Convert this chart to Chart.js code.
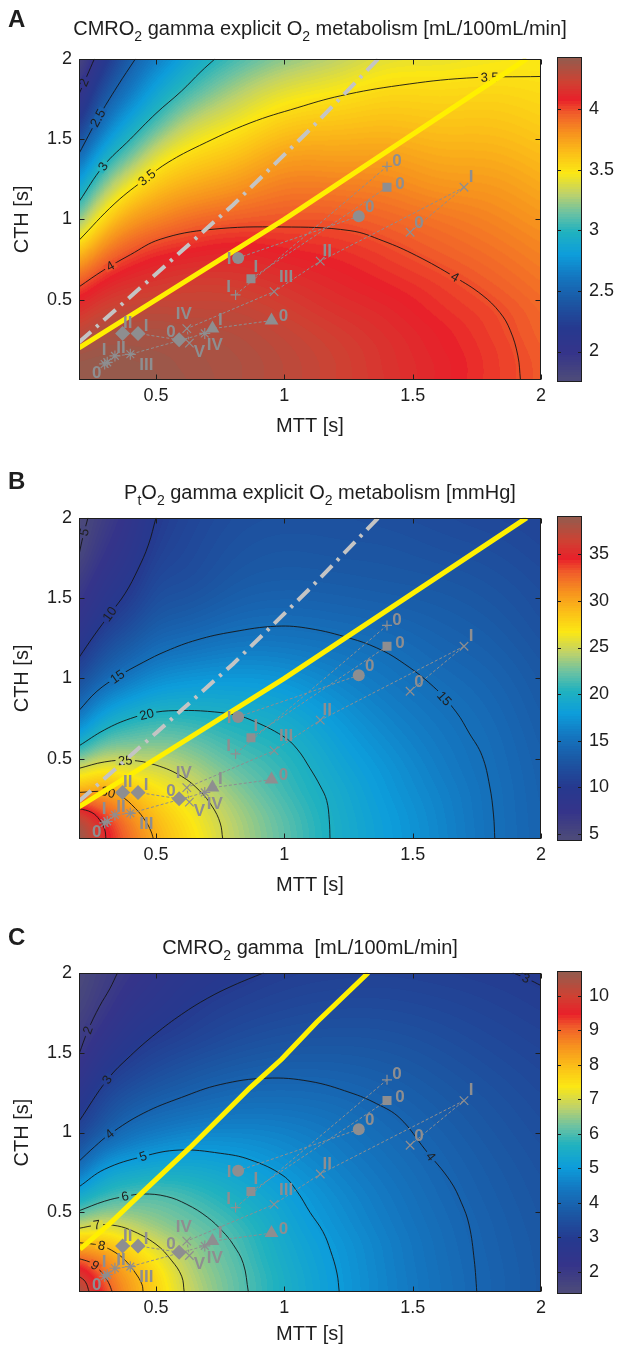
<!DOCTYPE html>
<html>
<head>
<meta charset="utf-8">
<script src="https://cdn.jsdelivr.net/npm/chart.js@4.4.1/dist/chart.umd.min.js"></script>
<style>
  html, body { margin: 0; padding: 0; background: #fff; }
  #page { position: relative; width: 619px; height: 1351px; overflow: hidden; }
  .panel { position: absolute; left: 0; width: 619px; }
</style>
</head>
<body>
<div id="page">
  <div class="panel" style="top:0px"><canvas id="chartA" width="619" height="450"></canvas></div>
  <div class="panel" style="top:459px"><canvas id="chartB" width="619" height="450"></canvas></div>
  <div class="panel" style="top:914px"><canvas id="chartC" width="619" height="437"></canvas></div>
</div>
<script>
const mttGrid = [0.2, 0.3, 0.4, 0.5, 0.6, 0.8, 1.0, 1.2, 1.4, 1.6, 1.8, 2.0];
const cthGrid = [0, 0.1, 0.2, 0.3, 0.4, 0.6, 0.8, 1.0, 1.2, 1.4, 1.6, 1.8, 2.0];

// A: CMRO2 gamma explicit O2 metabolism, one row per CTH value
const cmroExplicitMap = [
  [4.42, 4.42, 4.41, 4.40, 4.38, 4.34, 4.29, 4.23, 4.165, 4.10, 4.035, 3.97],
  [4.40, 4.41, 4.40, 4.39, 4.37, 4.34, 4.29, 4.23, 4.16, 4.10, 4.035, 3.97],
  [4.35, 4.38, 4.38, 4.37, 4.36, 4.33, 4.28, 4.22, 4.155, 4.09, 4.03, 3.96],
  [4.27, 4.33, 4.34, 4.34, 4.33, 4.31, 4.26, 4.20, 4.14, 4.08, 4.02, 3.95],
  [4.18, 4.26, 4.29, 4.30, 4.29, 4.28, 4.23, 4.17, 4.12, 4.06, 4.01, 3.94],
  [3.97, 4.09, 4.15, 4.18, 4.20, 4.20, 4.16, 4.11, 4.065, 4.02, 3.965, 3.90],
  [3.62, 3.86, 3.98, 4.04, 4.07, 4.10, 4.075, 4.05, 4.01, 3.96, 3.91, 3.85],
  [3.20, 3.55, 3.75, 3.84, 3.90, 3.96, 3.98, 3.975, 3.94, 3.895, 3.85, 3.79],
  [2.86, 3.22, 3.47, 3.62, 3.70, 3.79, 3.87, 3.87, 3.85, 3.80, 3.78, 3.72],
  [2.52, 2.90, 3.15, 3.37, 3.50, 3.62, 3.74, 3.75, 3.75, 3.71, 3.70, 3.65],
  [2.20, 2.60, 2.87, 3.08, 3.26, 3.44, 3.58, 3.62, 3.64, 3.62, 3.62, 3.58],
  [1.97, 2.36, 2.63, 2.85, 3.02, 3.25, 3.40, 3.47, 3.53, 3.53, 3.54, 3.52],
  [1.80, 2.15, 2.45, 2.65, 2.82, 3.05, 3.20, 3.30, 3.40, 3.42, 3.45, 3.46]
];

// B: PtO2 gamma explicit O2 metabolism [mmHg]
const ptoMap = [
  [39.0, 35.2, 32.3, 29.7, 27.8, 24.5, 22.0, 19.8, 18.1, 16.6, 15.1, 13.9],
  [37.8, 34.5, 31.6, 29.2, 27.4, 24.3, 21.9, 19.75, 18.05, 16.55, 15.08, 13.88],
  [34.5, 32.4, 30.3, 28.3, 26.7, 23.9, 21.6, 19.6, 17.9, 16.45, 15.04, 13.85],
  [29.7, 30.0, 28.6, 27.1, 25.8, 23.3, 21.2, 19.4, 17.7, 16.3, 15.0, 13.8],
  [26.3, 27.3, 26.5, 25.7, 24.8, 22.6, 20.9, 19.1, 17.5, 16.1, 14.9, 13.75],
  [19.6, 22.0, 22.6, 22.8, 22.5, 21.1, 20.1, 18.4, 16.9, 15.7, 14.7, 13.55],
  [15.0, 17.8, 19.2, 19.9, 20.0, 19.6, 18.9, 17.5, 16.2, 15.25, 14.4, 13.3],
  [11.9, 14.3, 15.8, 16.9, 17.4, 17.7, 17.4, 16.4, 15.5, 14.7, 14.0, 13.0],
  [9.3, 11.8, 13.3, 14.5, 15.0, 15.7, 15.7, 15.3, 14.8, 14.1, 13.5, 12.6],
  [7.6, 9.7, 11.3, 12.7, 13.2, 14.1, 14.4, 14.2, 13.9, 13.5, 13.0, 12.2],
  [6.2, 8.3, 9.8, 11.5, 12.0, 13.0, 13.4, 13.3, 13.1, 12.9, 12.5, 11.9],
  [4.9, 7.1, 8.8, 10.6, 11.4, 12.4, 12.8, 12.7, 12.6, 12.3, 12.0, 11.5],
  [4.5, 6.2, 8.0, 10.0, 11.0, 12.0, 12.3, 12.3, 12.1, 11.8, 11.5, 11.2]
];

// C: CMRO2 gamma [mL/100mL/min]
const cmroMap = [
  [10.6, 9.3, 8.4, 7.7, 7.05, 6.2, 5.55, 5.03, 4.6, 4.25, 3.95, 3.7],
  [10.0, 9.0, 8.25, 7.6, 6.95, 6.17, 5.53, 5.02, 4.59, 4.24, 3.945, 3.7],
  [9.1, 8.6, 7.9, 7.35, 6.8, 6.1, 5.47, 4.99, 4.57, 4.22, 3.93, 3.69],
  [8.1, 7.95, 7.45, 7.0, 6.6, 6.03, 5.41, 4.95, 4.55, 4.2, 3.91, 3.68],
  [7.0, 7.15, 6.9, 6.6, 6.35, 5.92, 5.33, 4.88, 4.5, 4.17, 3.89, 3.66],
  [5.4, 5.85, 6.03, 6.05, 5.95, 5.57, 5.14, 4.74, 4.4, 4.09, 3.83, 3.61],
  [4.1, 4.85, 5.12, 5.25, 5.29, 5.15, 4.87, 4.56, 4.27, 4.0, 3.76, 3.55],
  [3.25, 3.85, 4.25, 4.45, 4.58, 4.66, 4.57, 4.37, 4.12, 3.89, 3.67, 3.47],
  [2.7, 3.3, 3.65, 3.85, 3.98, 4.17, 4.2, 4.12, 3.95, 3.76, 3.57, 3.38],
  [2.2, 2.8, 3.15, 3.37, 3.53, 3.76, 3.86, 3.85, 3.76, 3.61, 3.44, 3.28],
  [1.85, 2.35, 2.75, 2.97, 3.12, 3.38, 3.53, 3.58, 3.55, 3.44, 3.3, 3.17],
  [1.6, 2.0, 2.4, 2.65, 2.85, 3.1, 3.25, 3.33, 3.33, 3.26, 3.16, 3.05],
  [1.45, 1.8, 2.1, 2.4, 2.62, 2.87, 3.03, 3.1, 3.12, 3.08, 3.02, 2.95]
];

// colour ranges and colorbar ticks
const cmroExplicitRange = [1.765, 4.416];
const ptoRange = [4.48, 38.9];
const cmroRange = [1.41, 10.67];
const cmroExplicitTicks = [2, 2.5, 3, 3.5, 4];
const ptoTicks = [5, 10, 15, 20, 25, 30, 35];
const cmroTicks = [2, 3, 4, 5, 6, 7, 8, 9, 10];

// contour lines: [level, [[MTT, CTH], ...]]
const cmroExplicitContours = [
  [2, [[0.2, 1.78], [0.23, 1.89], [0.26, 2.0]]],
  [2.5, [[0.2, 1.41], [0.274, 1.63], [0.35, 1.83], [0.42, 2.0]]],
  [3, [[0.2, 1.11], [0.294, 1.33], [0.4, 1.50], [0.5, 1.66], [0.6, 1.80], [0.675, 1.92], [0.73, 2.0]]],
  [3.5, [[0.2, 0.87], [0.34, 1.10], [0.465, 1.26], [0.547, 1.355], [0.67, 1.46], [0.866, 1.60], [1.05, 1.695], [1.22, 1.77], [1.45, 1.835], [1.71, 1.88], [2.0, 1.89]]],
  [4, [[0.2, 0.58], [0.295, 0.683], [0.4, 0.78], [0.516, 0.876], [0.71, 0.937], [0.99, 0.953], [1.256, 0.93], [1.385, 0.866], [1.515, 0.774], [1.665, 0.64], [1.77, 0.53], [1.84, 0.42], [1.88, 0.31], [1.91, 0.15], [1.92, 0]]]
];
const ptoContours = [
  [5, [[0.2, 1.77], [0.215, 1.88], [0.235, 2.0]]],
  [10, [[0.2, 1.13], [0.26, 1.27], [0.32, 1.40], [0.38, 1.53], [0.43, 1.68], [0.47, 1.83], [0.5, 2.0]]],
  [15, [[0.2, 0.80], [0.27, 0.92], [0.35, 1.01], [0.45, 1.10], [0.54, 1.17], [0.66, 1.24], [0.80, 1.29], [0.97, 1.325], [1.10, 1.31], [1.256, 1.25], [1.36, 1.19], [1.45, 1.11], [1.58, 0.95], [1.67, 0.79], [1.72, 0.66], [1.77, 0.52], [1.80, 0.33], [1.815, 0.15], [1.82, 0]]],
  [20, [[0.2, 0.58], [0.3, 0.68], [0.4, 0.75], [0.5, 0.79], [0.6, 0.80], [0.7, 0.795], [0.8, 0.775], [0.866, 0.744], [0.995, 0.64], [1.05, 0.56], [1.10, 0.44], [1.14, 0.33], [1.165, 0.24], [1.175, 0.12], [1.178, 0]]],
  [25, [[0.2, 0.44], [0.3, 0.48], [0.4, 0.49], [0.5, 0.46], [0.6, 0.39], [0.67, 0.30], [0.72, 0.20], [0.75, 0.10], [0.76, 0]]],
  [30, [[0.2, 0.29], [0.3, 0.295], [0.36, 0.27], [0.42, 0.19], [0.46, 0.11], [0.48, 0.05], [0.49, 0]]],
  [35, [[0.2, 0.19], [0.25, 0.165], [0.28, 0.12], [0.30, 0.06], [0.305, 0]]]
];
const cmroContours = [
  [2, [[0.2, 1.49], [0.235, 1.64], [0.28, 1.79], [0.32, 1.90], [0.35, 2.0]]],
  [3, [[0.2, 1.07], [0.31, 1.33], [0.4, 1.48], [0.5, 1.62], [0.6, 1.74], [0.7, 1.84], [0.8, 1.92], [0.92, 2.0]]],
  [3, [[1.89, 2.0], [1.95, 1.96], [2.0, 1.92]]],
  [4, [[0.2, 0.82], [0.26, 0.91], [0.32, 0.99], [0.45, 1.12], [0.6, 1.22], [0.75, 1.30], [0.93, 1.34], [1.1, 1.32], [1.256, 1.25], [1.36, 1.18], [1.45, 1.09], [1.55, 0.89], [1.645, 0.70], [1.69, 0.56], [1.72, 0.42], [1.74, 0.2], [1.75, 0]]],
  [5, [[0.2, 0.66], [0.3, 0.77], [0.45, 0.85], [0.59, 0.89], [0.75, 0.87], [0.866, 0.83], [0.995, 0.73], [1.05, 0.63], [1.10, 0.50], [1.15, 0.38], [1.18, 0.26], [1.205, 0.12], [1.214, 0]]],
  [6, [[0.2, 0.51], [0.3, 0.57], [0.38, 0.60], [0.45, 0.615], [0.54, 0.60], [0.62, 0.55], [0.7, 0.47], [0.76, 0.38], [0.8, 0.30], [0.84, 0.18], [0.86, 0]]],
  [7, [[0.2, 0.40], [0.27, 0.42], [0.33, 0.42], [0.4, 0.39], [0.5, 0.30], [0.56, 0.20], [0.6, 0.10], [0.61, 0]]],
  [8, [[0.2, 0.31], [0.26, 0.30], [0.29, 0.29], [0.34, 0.25], [0.38, 0.20], [0.42, 0.12], [0.445, 0.05], [0.45, 0]]],
  [9, [[0.2, 0.21], [0.24, 0.19], [0.262, 0.168], [0.29, 0.12], [0.315, 0.06], [0.33, 0]]],
  [10, [[0.2, 0.10], [0.225, 0.065], [0.24, 0]]]
];

// where the contour labels sit: level, MTT, CTH
const cmroExplicitLabels = [[2, 0.223, 1.85], [2.5, 0.274, 1.63], [3, 0.294, 1.33], [3.5, 0.465, 1.26], [3.5, 1.80, 1.88], [4, 0.32, 0.715], [4, 1.665, 0.64]];
const ptoLabels = [[5, 0.22, 1.91], [10, 0.32, 1.40], [15, 0.35, 1.01], [15, 1.62, 0.87], [20, 0.465, 0.77], [25, 0.38, 0.49], [30, 0.313, 0.29]];
const cmroLabels = [[2, 0.235, 1.64], [3, 0.31, 1.33], [3, 1.94, 1.96], [4, 0.32, 0.99], [4, 1.57, 0.85], [5, 0.45, 0.85], [6, 0.38, 0.60], [7, 0.27, 0.42], [8, 0.288, 0.29], [9, 0.262, 0.168]];

const xTicks = [0.5, 1, 1.5, 2];
const yTicks = [0.5, 1, 1.5, 2];

// overlay series (same in all three panels)
const circleMTT = [1.29, 0.82], circleCTH = [1.02, 0.76], circleTag = ['0', 'I'];
const squareMTT = [1.40, 0.87], squareCTH = [1.20, 0.63], squareTag = ['0', 'I'];
const plusMTT = [1.40, 0.81], plusCTH = [1.33, 0.53], plusTag = ['0', 'I'];
const crossMTT = [1.49, 1.70, 1.14, 0.96, 0.62, 0.63], crossCTH = [0.92, 1.20, 0.74, 0.55, 0.32, 0.23], crossTag = ['0', 'I', 'II', 'III', 'IV', 'V'];
const triangleMTT = [0.95, 0.72], triangleCTH = [0.37, 0.32], triangleTag = ['0', 'I'];
const diamondMTT = [0.59, 0.43, 0.37], diamondCTH = [0.25, 0.29, 0.29], diamondTag = ['0', 'I', 'II'];
const starMTT = [0.30, 0.31, 0.34, 0.40, 0.69], starCTH = [0.10, 0.11, 0.15, 0.16, 0.29], starTag = ['0', 'I', 'II', 'III', 'IV'];

const yellowMTT = [0.2, 1.0, 1.944], yellowCTH = [0.2, 1.0, 2.0];
const dashDotMTT = [0.2, 0.5, 0.8, 1.1, 1.366], dashDotCTH = [0.235, 0.66, 1.09, 1.56, 2.0];
const yellowCMTT = [0.204, 0.32, 0.45, 0.632, 0.866, 0.99, 1.126, 1.327];
const yellowCCTH = [0.27, 0.43, 0.63, 0.905, 1.28, 1.46, 1.69, 2.0];

// ---- styling
const FONT = '"Liberation Sans", Arial, sans-serif';
const INK = '#1e1e1e';
const GREY = '#8e8e90';
const YELLOW = '#fff000';
const tagOffsets = {
  circle: [[11, -9], [-9, 1]],
  square: [[13, -3], [5, -12]],
  plus: [[10, -5], [-7, -8]],
  cross: [[9, -9], [7, -10], [7, -10], [12, -14], [-3, -14], [10, 9]],
  triangle: [[12, -4], [8, -8]],
  diamond: [[-8, -8], [8, -7], [5, -10]],
  star: [[-8, 9], [-3, -12], [6, -8], [16, 11], [10, 12]]
};
const cmapStops = [
  [0.00, '#4c4a7a'], [0.08, '#35348a'], [0.16, '#26398f'], [0.24, '#1b56a3'],
  [0.32, '#1476c0'], [0.39, '#0d9ddb'], [0.46, '#20b2bf'], [0.52, '#6cc2a2'],
  [0.58, '#bfd26a'], [0.645, '#fbe714'], [0.71, '#fbbe18'], [0.77, '#f7931e'],
  [0.83, '#f1602a'], [0.875, '#e8202a'], [0.93, '#cf4132'], [1.00, '#975a4c']
].map(([t, c]) => [t, parseInt(c.slice(1, 3), 16), parseInt(c.slice(3, 5), 16), parseInt(c.slice(5, 7), 16)]);

function clamp(v, a, b) { return Math.max(a, Math.min(b, v)); }

function colourAt(v, range) {
  let t = clamp((v - range[0]) / (range[1] - range[0]), 0, 1);
  t = Math.min(127, Math.floor(t * 128)) / 127;
  let k = 0;
  while (k < cmapStops.length - 2 && t > cmapStops[k + 1][0]) k++;
  const a = cmapStops[k], b = cmapStops[k + 1];
  const f = clamp((t - a[0]) / (b[0] - a[0]), 0, 1);
  return [a[1] + (b[1] - a[1]) * f, a[2] + (b[2] - a[2]) * f, a[3] + (b[3] - a[3]) * f];
}
function rgb(c) { return 'rgb(' + c.map(Math.round).join(',') + ')'; }

// natural cubic spline on a non uniform grid
function splineM(xs, ys) {
  const n = xs.length, m = n - 2, M = new Float64Array(n);
  const a = [], b = [], c = [], d = [];
  for (let i = 1; i < n - 1; i++) {
    const h0 = xs[i] - xs[i - 1], h1 = xs[i + 1] - xs[i];
    a.push(h0 / 6); b.push((h0 + h1) / 3); c.push(h1 / 6);
    d.push((ys[i + 1] - ys[i]) / h1 - (ys[i] - ys[i - 1]) / h0);
  }
  for (let i = 1; i < m; i++) { const w = a[i] / b[i - 1]; b[i] -= w * c[i - 1]; d[i] -= w * d[i - 1]; }
  const s = new Array(m);
  s[m - 1] = d[m - 1] / b[m - 1];
  for (let i = m - 2; i >= 0; i--) s[i] = (d[i] - c[i] * s[i + 1]) / b[i];
  for (let i = 0; i < m; i++) M[i + 1] = s[i];
  return M;
}
function splineAt(xs, ys, M, x) {
  let k = 0;
  while (k < xs.length - 2 && x > xs[k + 1]) k++;
  const h = xs[k + 1] - xs[k], A = (xs[k + 1] - x) / h, B = (x - xs[k]) / h;
  return A * ys[k] + B * ys[k + 1] + ((A * A * A - A) * M[k] + (B * B * B - B) * M[k + 1]) * h * h / 6;
}

function blur(F, w, h, sigma) {
  const r = Math.ceil(sigma * 3), ker = [];
  let sum = 0;
  for (let k = -r; k <= r; k++) { const v = Math.exp(-k * k / (2 * sigma * sigma)); ker.push(v); sum += v; }
  for (let k = 0; k < ker.length; k++) ker[k] /= sum;
  const T = new Float32Array(w * h);
  for (let j = 0; j < h; j++) for (let i = 0; i < w; i++) {
    let s = 0;
    for (let k = -r; k <= r; k++) s += ker[k + r] * F[j * w + clamp(i + k, 0, w - 1)];
    T[j * w + i] = s;
  }
  for (let j = 0; j < h; j++) for (let i = 0; i < w; i++) {
    let s = 0;
    for (let k = -r; k <= r; k++) s += ker[k + r] * T[clamp(j + k, 0, h - 1) * w + i];
    F[j * w + i] = s;
  }
}

function buildMap(chart, p) {
  const a = chart.chartArea, sx = chart.scales.x, sy = chart.scales.y;
  const w = Math.round(a.right - a.left), h = Math.round(a.bottom - a.top);
  const rowM = p.grid.map(r => splineM(mttGrid, r));
  const yv = [];
  for (let j = 0; j < h; j++) yv.push(clamp(sy.getValueForPixel(a.top + j + 0.5), 0, 2));
  const F = new Float32Array(w * h);
  for (let i = 0; i < w; i++) {
    const xv = clamp(sx.getValueForPixel(a.left + i + 0.5), 0.2, 2);
    const col = p.grid.map((r, k) => splineAt(mttGrid, r, rowM[k], xv));
    const cm = splineM(cthGrid, col);
    for (let j = 0; j < h; j++) F[j * w + i] = splineAt(cthGrid, col, cm, yv[j]);
  }
  blur(F, w, h, 4);
  const img = document.createElement('canvas');
  img.width = w; img.height = h;
  const ictx = img.getContext('2d');
  const data = ictx.createImageData(w, h);
  for (let k = 0; k < w * h; k++) {
    const c = colourAt(F[k], p.range);
    data.data[k * 4] = c[0]; data.data[k * 4 + 1] = c[1]; data.data[k * 4 + 2] = c[2]; data.data[k * 4 + 3] = 255;
  }
  ictx.putImageData(data, 0, 0);
  return { F, w, h, img };
}

// contour label sitting on its own line, with a gap cut in the colour below
function drawLineLabels(ctx, chart, meta, labels, range) {
  const a = chart.chartArea, m = chart.$map;
  const pts = meta.data.map(el => [el.x, el.y]);
  ctx.save();
  ctx.font = '13px ' + FONT;
  ctx.textAlign = 'center';
  ctx.textBaseline = 'middle';
  labels.forEach(([lv, mx, my]) => {
    const tx = chart.scales.x.getPixelForValue(mx), ty = chart.scales.y.getPixelForValue(my);
    let best = null, bestD = Infinity;
    for (let k = 0; k < pts.length - 1; k++) {
      const [x1, y1] = pts[k], [x2, y2] = pts[k + 1];
      const dx = x2 - x1, dy = y2 - y1, L2 = dx * dx + dy * dy || 1;
      const t = clamp(((tx - x1) * dx + (ty - y1) * dy) / L2, 0, 1);
      const px = x1 + t * dx, py = y1 + t * dy, d = Math.hypot(px - tx, py - ty);
      if (d < bestD) { bestD = d; best = [px, py, Math.atan2(dy, dx)]; }
    }
    if (!best) return;
    let [px, py, ang] = best;
    if (ang > Math.PI / 2) ang -= Math.PI;
    if (ang < -Math.PI / 2) ang += Math.PI;
    const i = clamp(Math.round(px - a.left), 0, m.w - 1), j = clamp(Math.round(py - a.top), 0, m.h - 1);
    const txt = String(lv), tw = ctx.measureText(txt).width + 5;
    ctx.save();
    ctx.beginPath();
    ctx.rect(a.left, a.top, a.right - a.left, a.bottom - a.top);
    ctx.clip();
    ctx.translate(px, py);
    ctx.rotate(ang);
    ctx.fillStyle = rgb(colourAt(m.F[j * m.w + i], range));
    ctx.fillRect(-tw / 2, -4, tw, 8);
    ctx.fillStyle = INK;
    ctx.fillText(txt, 0, 0.5);
    ctx.restore();
  });
  ctx.restore();
}

function drawRichText(ctx, parts, cx, baseY, size) {
  let total = 0;
  parts.forEach(([t, sub]) => { ctx.font = (sub ? size * 0.7 : size) + 'px ' + FONT; total += ctx.measureText(t).width; });
  let x = cx - total / 2;
  ctx.textAlign = 'left';
  ctx.textBaseline = 'alphabetic';
  parts.forEach(([t, sub]) => {
    ctx.font = (sub ? size * 0.7 : size) + 'px ' + FONT;
    ctx.fillText(t, x, baseY + (sub ? size * 0.3 : 0));
    x += ctx.measureText(t).width;
  });
}

function makeMapPlugin(p) {
  return {
    id: 'map' + p.letter,
    beforeDatasetsDraw(chart) {
      const ctx = chart.ctx, a = chart.chartArea;
      if (!chart.$map) chart.$map = buildMap(chart, p);
      ctx.drawImage(chart.$map.img, a.left, a.top);
    },
    afterDatasetDraw(chart, args) {
      const ds = chart.data.datasets[args.index];
      if (ds.lineLabels && ds.lineLabels.length) drawLineLabels(chart.ctx, chart, args.meta, ds.lineLabels, p.range);
    },
    afterDatasetsDraw(chart) {
      const ctx = chart.ctx, a = chart.chartArea, sx = chart.scales.x, sy = chart.scales.y;
      ctx.save();
      // stage tags next to the markers
      ctx.font = 'bold 17px ' + FONT;
      ctx.fillStyle = GREY;
      ctx.textAlign = 'center';
      ctx.textBaseline = 'middle';
      chart.data.datasets.forEach((ds, di) => {
        if (!ds.tags) return;
        const meta = chart.getDatasetMeta(di);
        ds.tags.forEach((t, k) => {
          const pt = meta.data[k], off = tagOffsets[ds.label][k];
          ctx.fillText(t, pt.x + off[0], pt.y + off[1]);
        });
      });
      // box and inward ticks
      ctx.strokeStyle = INK;
      ctx.lineWidth = 1;
      const L = Math.round(a.left) + 0.5, R = Math.round(a.right) - 0.5, T = Math.round(a.top) + 0.5, B = Math.round(a.bottom) - 0.5;
      ctx.strokeRect(L, T, R - L, B - T);
      ctx.beginPath();
      xTicks.forEach(v => {
        const px = Math.round(sx.getPixelForValue(v)) + 0.5;
        ctx.moveTo(px, B); ctx.lineTo(px, B - 5);
        ctx.moveTo(px, T); ctx.lineTo(px, T + 5);
      });
      yTicks.forEach(v => {
        const py = Math.round(sy.getPixelForValue(v)) + 0.5;
        ctx.moveTo(L, py); ctx.lineTo(L + 5, py);
        ctx.moveTo(R, py); ctx.lineTo(R - 5, py);
      });
      ctx.stroke();
      // colorbar
      const cb = chart.scales.cb;
      const bx = Math.round(cb.left) + 16, bw = 25;
      const top = Math.round(a.top) - 2, bot = Math.round(a.bottom) + 2;
      for (let y = top; y < bot; y++) {
        ctx.fillStyle = rgb(colourAt(cb.getValueForPixel(y + 0.5), p.range));
        ctx.fillRect(bx, y, bw, 1);
      }
      ctx.strokeRect(bx + 0.5, top + 0.5, bw - 1, bot - top - 1);
      ctx.beginPath();
      p.cbTicks.forEach(v => {
        const py = Math.round(cb.getPixelForValue(v)) + 0.5;
        ctx.moveTo(bx, py); ctx.lineTo(bx + 4, py);
        ctx.moveTo(bx + bw, py); ctx.lineTo(bx + bw - 4, py);
      });
      ctx.stroke();
      ctx.restore();
    },
    afterDraw(chart) {
      const ctx = chart.ctx, a = chart.chartArea;
      ctx.save();
      ctx.fillStyle = INK;
      drawRichText(ctx, p.title, p.titleX, a.top - p.titleGap, 20);
      ctx.font = 'bold 24px ' + FONT;
      ctx.textAlign = 'left';
      ctx.textBaseline = 'alphabetic';
      ctx.fillText(p.letter, 8, p.letterY);
      ctx.restore();
    }
  };
}

function markerSet(name, xs, ys, tags, style, radius, filled) {
  return {
    label: name,
    tags: tags,
    data: xs.map((x, i) => ({ x: x, y: ys[i] })),
    showLine: true,
    borderColor: GREY,
    borderWidth: 1,
    borderDash: [3, 2],
    pointStyle: style,
    pointRadius: radius,
    pointBackgroundColor: filled ? GREY : 'rgba(0,0,0,0)',
    pointBorderColor: GREY,
    pointBorderWidth: filled ? 0 : 1.2,
    order: 0
  };
}

function lineSet(xs, ys, colour, width, dash, order) {
  return {
    data: xs.map((x, i) => ({ x: x, y: ys[i] })),
    showLine: true,
    borderColor: colour,
    borderWidth: width,
    borderDash: dash,
    borderCapStyle: 'butt',
    pointRadius: 0,
    order: order
  };
}

// one dataset per contour line; each label goes to the nearest line of its level
function contourSets(contours, labels) {
  const sets = contours.map(([lv, pts]) => ({
    level: lv,
    lineLabels: [],
    data: pts.map(([x, y]) => ({ x: x, y: y })),
    showLine: true,
    borderColor: '#151515',
    borderWidth: 0.9,
    tension: 0.4,
    pointRadius: 0,
    order: 10
  }));
  labels.forEach(lab => {
    let best = null, bestD = Infinity;
    sets.forEach(s => {
      if (s.level !== lab[0]) return;
      s.data.forEach(pt => {
        const d = Math.hypot(pt.x - lab[1], pt.y - lab[2]);
        if (d < bestD) { bestD = d; best = s; }
      });
    });
    if (best) best.lineLabels.push(lab);
  });
  return sets;
}

function panelChart(id, p) {
  const tickFont = { family: FONT, size: 18 };
  const titleFont = { family: FONT, size: 20 };
  const datasets = [
    markerSet('circle', circleMTT, circleCTH, circleTag, 'circle', 6, true),
    markerSet('square', squareMTT, squareCTH, squareTag, 'rect', 6.4, true),
    markerSet('plus', plusMTT, plusCTH, plusTag, 'cross', 5, false),
    markerSet('cross', crossMTT, crossCTH, crossTag, 'crossRot', 6, false),
    markerSet('triangle', triangleMTT, triangleCTH, triangleTag, 'triangle', 8, true),
    markerSet('diamond', diamondMTT, diamondCTH, diamondTag, 'rectRot', 7.5, true),
    markerSet('star', starMTT, starCTH, starTag, 'star', 5.5, false)
  ].concat(p.lines, contourSets(p.contours, p.labels));
  return new Chart(document.getElementById(id), {
    type: 'scatter',
    data: { datasets: datasets },
    options: {
      responsive: false,
      animation: false,
      events: [],
      layout: { padding: { left: 10, right: 0, top: 52, bottom: p.padBottom } },
      plugins: { legend: { display: false }, tooltip: { enabled: false }, title: { display: false } },
      scales: {
        x: {
          type: 'linear', min: 0.2, max: 2,
          afterBuildTicks: s => { s.ticks = xTicks.map(v => ({ value: v })); },
          afterFit: s => { s.height = p.xAxisH; },
          grid: { display: false, drawTicks: false },
          border: { display: false },
          ticks: { font: tickFont, color: INK, padding: 5, maxRotation: 0, autoSkip: false, callback: v => String(v) },
          title: { display: true, text: 'MTT [s]', font: titleFont, color: INK, padding: 0 }
        },
        y: {
          type: 'linear', min: 0, max: 2,
          afterBuildTicks: s => { s.ticks = yTicks.map(v => ({ value: v })); },
          afterFit: s => { s.width = 69; },
          grid: { display: false, drawTicks: false },
          border: { display: false },
          ticks: { font: tickFont, color: INK, padding: 7, autoSkip: false, callback: v => String(v) },
          title: { display: true, text: 'CTH [s]', font: titleFont, color: INK, padding: 0 }
        },
        cb: {
          type: 'linear', position: 'right', min: p.range[0], max: p.range[1],
          afterBuildTicks: s => { s.ticks = p.cbTicks.map(v => ({ value: v })); },
          afterFit: s => { s.width = 78; },
          grid: { display: false, drawTicks: false },
          border: { display: false },
          ticks: { font: tickFont, color: INK, padding: 48, autoSkip: false, callback: v => String(v) }
        }
      }
    },
    plugins: [makeMapPlugin(p)]
  });
}

const straightLines = () => [
  lineSet(yellowMTT, yellowCTH, YELLOW, 5, [], 1),
  lineSet(dashDotMTT, dashDotCTH, '#c4c4c4', 4, [16, 7, 3, 7], 2)
];

panelChart('chartA', {
  letter: 'A', grid: cmroExplicitMap, range: cmroExplicitRange, cbTicks: cmroExplicitTicks,
  contours: cmroExplicitContours, labels: cmroExplicitLabels, padBottom: 12, xAxisH: 58,
  titleX: 320, titleGap: 24, letterY: 27,
  title: [['CMRO', 0], ['2', 1], [' gamma explicit O', 0], ['2', 1], [' metabolism [mL/100mL/min]', 0]],
  lines: straightLines()
});
panelChart('chartB', {
  letter: 'B', grid: ptoMap, range: ptoRange, cbTicks: ptoTicks,
  contours: ptoContours, labels: ptoLabels, padBottom: 12, xAxisH: 58,
  titleX: 320, titleGap: 19, letterY: 30,
  title: [['P', 0], ['t', 1], ['O', 0], ['2', 1], [' gamma explicit O', 0], ['2', 1], [' metabolism [mmHg]', 0]],
  lines: straightLines()
});
panelChart('chartC', {
  letter: 'C', grid: cmroMap, range: cmroRange, cbTicks: cmroTicks,
  contours: cmroContours, labels: cmroLabels, padBottom: 1, xAxisH: 54,
  titleX: 310, titleGap: 19, letterY: 31,
  title: [['CMRO', 0], ['2', 1], [' gamma  [mL/100mL/min]', 0]],
  lines: [lineSet(yellowCMTT, yellowCCTH, YELLOW, 5, [], 1)]
});
</script>
</body>
</html>
